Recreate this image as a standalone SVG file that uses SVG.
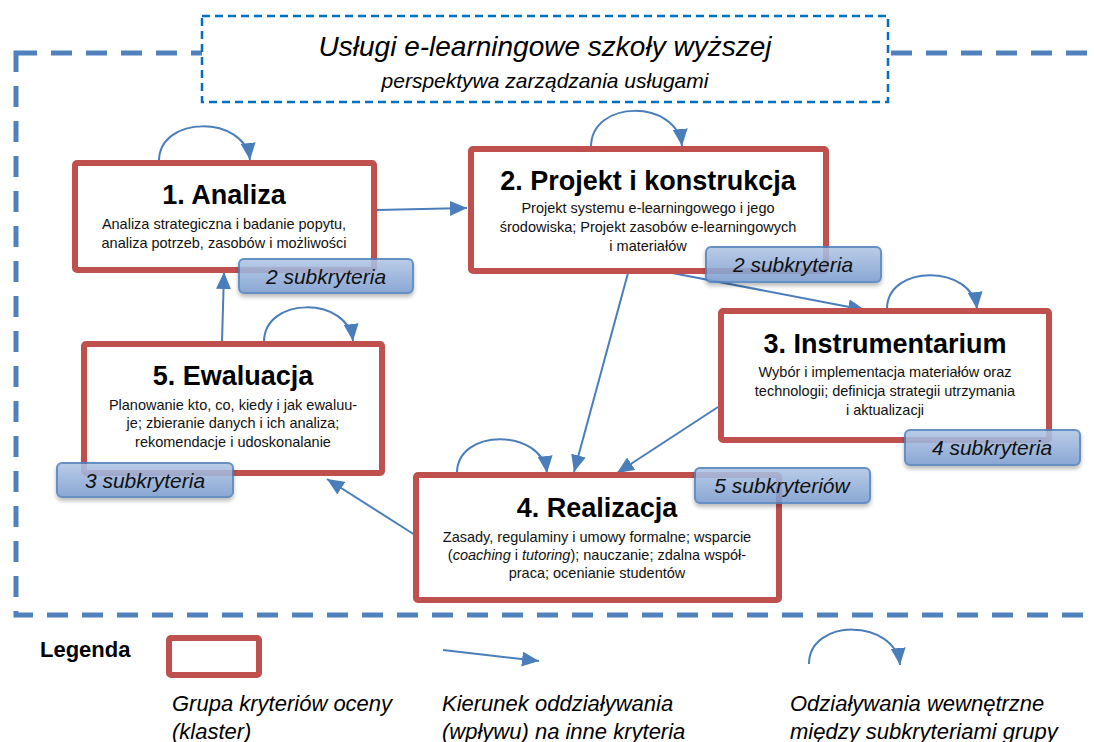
<svg xmlns="http://www.w3.org/2000/svg" width="1094" height="742" viewBox="0 0 1094 742">
<style>
.frame{fill:none;stroke:#4f81bd;stroke-width:5;stroke-dasharray:21 14}
.titlebox{fill:#fff;stroke:#0070c0;stroke-width:2.5;stroke-dasharray:8 5}
.box{fill:#fff;stroke:#c0504d;stroke-width:6}
.conn{fill:none;stroke:#4a7ebb;stroke-width:2}
.badge{fill:url(#bg);stroke:#4f81bd;stroke-width:2;opacity:0.88}
.h{font-family:"Liberation Sans",Arial,sans-serif;font-weight:bold;font-size:27px;fill:#000;text-anchor:middle}
.d{font-family:"Liberation Sans",Arial,sans-serif;font-size:14.5px;fill:#111;text-anchor:middle}
.b{font-family:"Liberation Sans",Arial,sans-serif;font-style:italic;font-size:21px;fill:#111;text-anchor:middle}
.lg{font-family:"Liberation Sans",Arial,sans-serif;font-style:italic;font-size:22px;fill:#000}
.t1{font-family:"Liberation Sans",Arial,sans-serif;font-style:italic;font-size:28px;fill:#000;text-anchor:middle}
.t2{font-family:"Liberation Sans",Arial,sans-serif;font-style:italic;font-size:21px;fill:#000;text-anchor:middle}
</style>
<defs>
<linearGradient id="bg" x1="0" y1="0" x2="0" y2="1">
<stop offset="0" stop-color="#b1c6e5"/>
<stop offset="1" stop-color="#7a9bce"/>
</linearGradient>
<filter id="sh" x="-10%" y="-20%" width="120%" height="160%">
<feDropShadow dx="0" dy="3" stdDeviation="2" flood-color="#000" flood-opacity="0.3"/>
</filter>
<marker id="ah" markerUnits="userSpaceOnUse" markerWidth="17" markerHeight="15" refX="17" refY="7.5" orient="auto">
<path d="M0,0 L17,7.5 L0,15 z" fill="#4a7ebb"/>
</marker>
</defs>
<rect width="1094" height="742" fill="#fff"/>
<g id="frame">
<rect class="frame" x="16" y="53" width="1110" height="562"/>
</g>
<g id="title">
<rect class="titlebox" x="202" y="16" width="686" height="86"/>
<text class="t1" x="545" y="56">Usługi e-learningowe szkoły wyższej</text>
<text class="t2" x="545" y="88">perspektywa zarządzania usługami</text>
</g>
<g id="connectors">
<path class="conn" marker-end="url(#ah)" d="M377,210 L467,208"/>
<path class="conn" marker-end="url(#ah)" d="M667,272 L865,310"/>
<path class="conn" marker-end="url(#ah)" d="M628,273 L574,472"/>
<path class="conn" marker-end="url(#ah)" d="M718,407 L617,473"/>
<path class="conn" marker-end="url(#ah)" d="M415,535 L327,479"/>
<path class="conn" marker-end="url(#ah)" d="M222,342 L224,272"/>
<path class="conn" marker-end="url(#ah)" d="M159,161 C159,115 245,115 250,160"/>
<path class="conn" marker-end="url(#ah)" d="M591,147 C591,99 677,99 682,146"/>
<path class="conn" marker-end="url(#ah)" d="M887,309 C887,264 972,264 977,309"/>
<path class="conn" marker-end="url(#ah)" d="M264,342 C264,296 348,296 353,341"/>
<path class="conn" marker-end="url(#ah)" d="M457,473 C457,428 542,428 547,473"/>
</g>
<g id="n1">
<rect class="box" x="75" y="163" width="299" height="107" rx="2"/>
<text class="h" x="224" y="204">1. Analiza</text>
<text class="d" x="224" y="229">Analiza strategiczna i badanie popytu,</text>
<text class="d" x="224" y="248">analiza potrzeb, zasobów i możliwości</text>
<rect class="badge" filter="url(#sh)" x="239" y="259" width="174" height="34" rx="5"/>
<text class="b" x="326" y="284">2 subkryteria</text>
</g>
<g id="n2">
<rect class="box" x="471" y="149" width="355" height="122" rx="2"/>
<text class="h" x="648" y="190">2. Projekt i konstrukcja</text>
<text class="d" x="648" y="213">Projekt systemu e-learningowego i jego</text>
<text class="d" x="648" y="232">środowiska; Projekt zasobów e-learningowych</text>
<text class="d" x="648" y="251">i materiałów</text>
<rect class="badge" filter="url(#sh)" x="706" y="247" width="175" height="35" rx="5"/>
<text class="b" x="793" y="272">2 subkryteria</text>
</g>
<g id="n3">
<rect class="box" x="721" y="311" width="328" height="129" rx="2"/>
<text class="h" x="885" y="353">3. Instrumentarium</text>
<text class="d" x="885" y="377">Wybór i implementacja materiałów oraz</text>
<text class="d" x="885" y="396">technologii; definicja strategii utrzymania</text>
<text class="d" x="885" y="415">i aktualizacji</text>
<rect class="badge" filter="url(#sh)" x="905" y="430" width="175" height="35" rx="5"/>
<text class="b" x="992" y="455">4 subkryteria</text>
</g>
<g id="n4">
<rect class="box" x="416" y="475" width="363" height="125" rx="2"/>
<text class="h" x="597" y="517">4. Realizacja</text>
<text class="d" x="597" y="542">Zasady, regulaminy i umowy formalne; wsparcie</text>
<text class="d" x="597" y="560">(<tspan font-style="italic">coaching</tspan> i <tspan font-style="italic">tutoring</tspan>); nauczanie; zdalna współ-</text>
<text class="d" x="597" y="578">praca; ocenianie studentów</text>
<rect class="badge" filter="url(#sh)" x="695" y="468" width="175" height="35" rx="5"/>
<text class="b" x="782" y="493">5 subkryteriów</text>
</g>
<g id="n5">
<rect class="box" x="84" y="344" width="298" height="129" rx="2"/>
<text class="h" x="233" y="385">5. Ewaluacja</text>
<text class="d" x="233" y="410">Planowanie kto, co, kiedy i jak ewaluu-</text>
<text class="d" x="233" y="428">je; zbieranie danych i ich analiza;</text>
<text class="d" x="233" y="447">rekomendacje i udoskonalanie</text>
<rect class="badge" filter="url(#sh)" x="57" y="463" width="176" height="34" rx="5"/>
<text class="b" x="145" y="488">3 subkryteria</text>
</g>
<g id="legend">
<text x="40" y="657" font-family="Liberation Sans, Arial, sans-serif" font-weight="bold" font-size="22" fill="#000">Legenda</text>
<rect class="box" x="169" y="638" width="90" height="37" rx="2"/>
<path class="conn" marker-end="url(#ah)" d="M443,650 L539,661"/>
<path class="conn" marker-end="url(#ah)" d="M809,664 C809,618 895,618 900,665"/>
<text class="lg" x="172" y="711">Grupa kryteriów oceny</text>
<text class="lg" x="172" y="739">(klaster)</text>
<text class="lg" x="442" y="711">Kierunek oddziaływania</text>
<text class="lg" x="442" y="739">(wpływu) na inne kryteria</text>
<text class="lg" x="790" y="711">Odziaływania wewnętrzne</text>
<text class="lg" x="790" y="739">między subkryteriami grupy</text>
</g>
</svg>
